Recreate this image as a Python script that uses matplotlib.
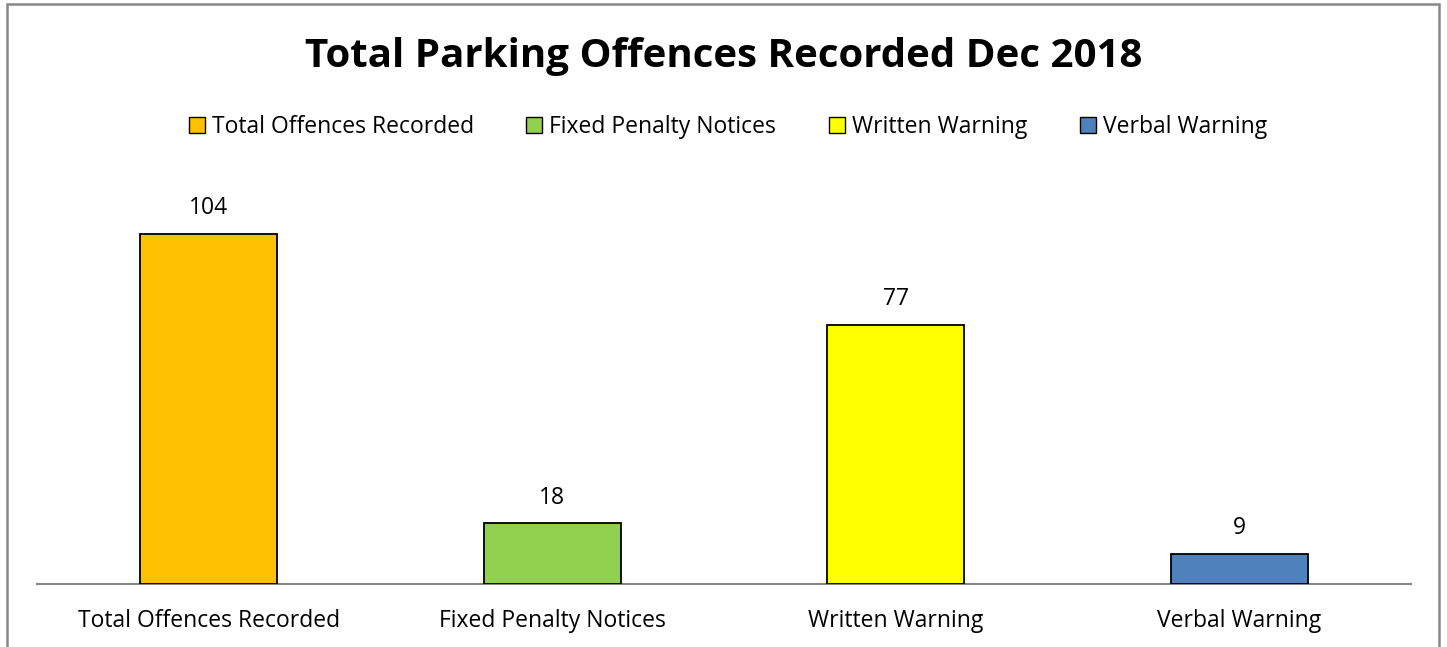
import matplotlib
matplotlib.use("Agg")
import matplotlib.pyplot as plt
from matplotlib.patches import Patch, Rectangle

# Datos del gráfico
categorias = ["Total Offences Recorded", "Fixed Penalty Notices",
              "Written Warning", "Verbal Warning"]
valores = [104, 18, 77, 9]
colores = ["#FFC000", "#92D050", "#FFFF00", "#4F81BD"]
titulo = "Total Parking Offences Recorded Dec 2018"

plt.rcParams['font.family'] = ['Open Sans', 'DejaVu Sans']
TAM = 16.5

fig = plt.figure(figsize=(14.47, 6.47), dpi=100)
ax = fig.add_axes([37 / 1447, 1 - 584 / 647, 1374 / 1447, 404 / 647])

x = range(len(categorias))
ax.bar(x, valores, width=0.4, color=colores, edgecolor="black", linewidth=1.3, zorder=3)
for xi, v in zip(x, valores):
    ax.annotate(f"{v}", (xi, v), xytext=(0, 10), textcoords="offset points",
                ha="center", va="bottom", fontsize=TAM)

ax.set_xlim(-0.5, 3.5)
ax.set_ylim(0, 120)
ax.set_yticks([])
ax.set_xticks(list(x))
ax.set_xticklabels(categorias, fontsize=TAM)
ax.tick_params(axis="x", length=0, pad=18)
for lado in ("top", "right", "left"):
    ax.spines[lado].set_visible(False)
ax.spines["bottom"].set_color("#868686")
ax.spines["bottom"].set_linewidth(1.5)

# Borde exterior del gráfico
fig.patches.append(Rectangle((7 / 1447, -0.05), 1432 / 1447, 1.05 - 4 / 647,
                             transform=fig.transFigure, fill=False,
                             edgecolor="#888888", linewidth=1.8))

fig.text(0.5, 1 - 57 / 647, titulo, ha="center", va="center",
         fontsize=29, fontweight="bold")

handles = [Patch(facecolor=c, edgecolor="black", linewidth=1) for c in colores]
fig.legend(handles, categorias, loc="center", bbox_to_anchor=(0.503, 1 - 127 / 647),
           ncol=4, frameon=False, fontsize=TAM, handlelength=0.7, handleheight=0.7,
           handletextpad=0.3, columnspacing=2.3)

fig.savefig("out.png", dpi=100)
